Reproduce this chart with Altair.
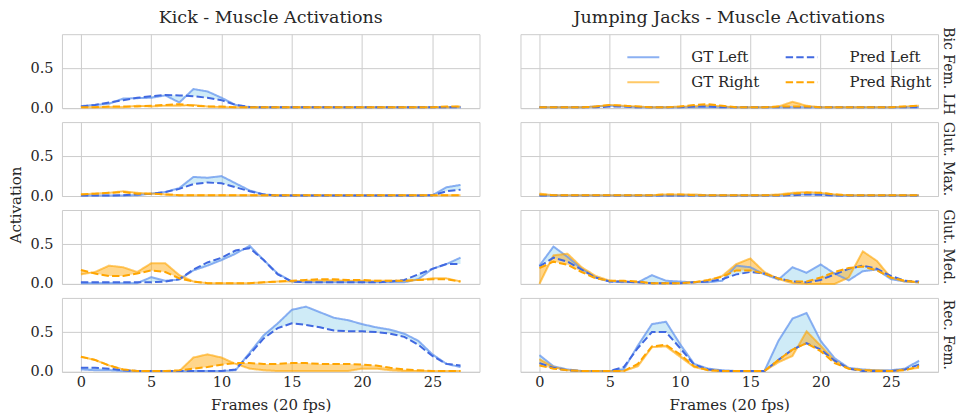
import altair as alt
import pandas as pd

frames = list(range(28))
exercises = ["Kick - Muscle Activations", "Jumping Jacks - Muscle Activations"]
muscles = ["Bic Fem. LH", "Glut. Max.", "Glut. Med.", "Rec. Fem."]
series_names = ["GT Left", "GT Right", "Pred Left", "Pred Right"]

# ---- Kick ----
kick_bic_gt_l = [0.025,0.04,0.055,0.12,0.125,0.13,0.16,0.07,0.24,0.21,0.13,0.04,0.01,0.01,0.01,0.01,0.01,0.01,0.01,0.01,0.01,0.01,0.01,0.01,0.01,0.01,0.01,0.01]
kick_bic_pr_l = [0.02,0.04,0.07,0.10,0.13,0.15,0.165,0.16,0.15,0.13,0.10,0.04,0.015,0.01,0.01,0.01,0.01,0.01,0.01,0.01,0.01,0.01,0.01,0.01,0.01,0.01,0.01,0.01]
kick_bic_gt_r = [0.01,0.01,0.01,0.01,0.03,0.02,0.03,0.03,0.04,0.02,0.01,0.01,0.01,0.01,0.01,0.01,0.01,0.01,0.01,0.01,0.01,0.01,0.01,0.01,0.01,0.01,0.01,0.02]
kick_bic_pr_r = [0.01,0.01,0.02,0.02,0.02,0.03,0.04,0.05,0.03,0.02,0.02,0.01,0.01,0.01,0.01,0.01,0.01,0.01,0.01,0.01,0.01,0.01,0.01,0.01,0.01,0.01,0.02,0.02]

kick_gmax_gt_l = [0.005,0.005,0.005,0.005,0.01,0.03,0.05,0.10,0.24,0.23,0.25,0.16,0.07,0.02,0.005,0.005,0.005,0.005,0.005,0.005,0.005,0.005,0.005,0.005,0.005,0.01,0.11,0.14]
kick_gmax_pr_l = [0.005,0.005,0.005,0.01,0.02,0.03,0.05,0.09,0.15,0.17,0.16,0.11,0.06,0.02,0.005,0.005,0.005,0.005,0.005,0.005,0.005,0.005,0.005,0.005,0.005,0.01,0.06,0.08]
kick_gmax_gt_r = [0.02,0.03,0.04,0.06,0.04,0.03,0.02,0.01,0.01,0.01,0.01,0.01,0.01,0.01,0.01,0.01,0.01,0.01,0.01,0.01,0.01,0.01,0.01,0.01,0.01,0.01,0.01,0.01]
kick_gmax_pr_r = [0.02,0.03,0.04,0.05,0.03,0.03,0.02,0.01,0.01,0.01,0.01,0.01,0.01,0.01,0.01,0.01,0.01,0.01,0.01,0.01,0.01,0.01,0.01,0.01,0.01,0.01,0.01,0.01]

kick_gmed_gt_l = [0.01,0.01,0.01,0.01,0.01,0.085,0.04,0.055,0.17,0.23,0.30,0.38,0.48,0.30,0.13,0.03,0.02,0.02,0.02,0.02,0.02,0.02,0.02,0.02,0.06,0.19,0.25,0.33]
kick_gmed_pr_l = [0.02,0.02,0.02,0.02,0.02,0.02,0.03,0.06,0.18,0.27,0.33,0.42,0.45,0.30,0.12,0.03,0.02,0.02,0.02,0.02,0.02,0.02,0.03,0.05,0.12,0.19,0.25,0.25]
kick_gmed_gt_r = [0.12,0.15,0.23,0.21,0.15,0.26,0.26,0.11,0.03,0.01,0.01,0.01,0.01,0.02,0.03,0.03,0.04,0.04,0.04,0.04,0.04,0.04,0.04,0.04,0.05,0.07,0.07,0.03]
kick_gmed_pr_r = [0.175,0.13,0.10,0.10,0.13,0.17,0.15,0.07,0.03,0.01,0.01,0.01,0.01,0.02,0.03,0.04,0.05,0.06,0.06,0.05,0.05,0.04,0.04,0.04,0.05,0.06,0.06,0.03]

kick_rf_gt_l = [0.03,0.02,0.02,0.01,0.01,0.01,0.01,0.01,0.01,0.01,0.01,0.02,0.24,0.46,0.61,0.78,0.82,0.75,0.68,0.65,0.60,0.56,0.53,0.48,0.39,0.22,0.10,0.06]
kick_rf_pr_l = [0.05,0.05,0.04,0.02,0.01,0.01,0.01,0.01,0.01,0.01,0.01,0.03,0.22,0.42,0.55,0.61,0.59,0.56,0.52,0.51,0.51,0.50,0.48,0.44,0.34,0.20,0.10,0.08]
kick_rf_gt_r = [0.19,0.15,0.08,0.03,0.01,0.01,0.01,0.01,0.18,0.22,0.18,0.10,0.04,0.02,0.01,0.01,0.01,0.01,0.01,0.01,0.04,0.04,0.02,0.01,0.01,0.01,0.01,0.01]
kick_rf_pr_r = [0.19,0.15,0.08,0.03,0.01,0.01,0.01,0.02,0.04,0.06,0.09,0.11,0.11,0.10,0.10,0.11,0.11,0.10,0.10,0.10,0.09,0.08,0.05,0.03,0.02,0.01,0.01,0.01]

# ---- Jumping Jacks ----
jj_bic_gt_l = [0.01,0.01,0.01,0.01,0.02,0.03,0.02,0.01,0.01,0.01,0.01,0.01,0.01,0.01,0.01,0.01,0.01,0.01,0.01,0.01,0.01,0.01,0.01,0.01,0.01,0.01,0.01,0.01]
jj_bic_pr_l = [0.01,0.01,0.01,0.01,0.01,0.02,0.02,0.01,0.01,0.01,0.01,0.02,0.02,0.01,0.01,0.01,0.01,0.01,0.01,0.01,0.01,0.01,0.01,0.01,0.01,0.01,0.01,0.01]
jj_bic_gt_r = [0.01,0.01,0.01,0.01,0.02,0.04,0.03,0.02,0.01,0.01,0.02,0.02,0.03,0.02,0.01,0.01,0.01,0.02,0.08,0.03,0.01,0.01,0.01,0.01,0.01,0.01,0.02,0.03]
jj_bic_pr_r = [0.01,0.01,0.01,0.01,0.02,0.04,0.03,0.02,0.01,0.01,0.02,0.04,0.05,0.03,0.01,0.01,0.01,0.02,0.02,0.02,0.01,0.01,0.01,0.01,0.01,0.01,0.02,0.03]

jj_gmax_gt_l = [0.005,0.005,0.005,0.005,0.005,0.005,0.005,0.005,0.005,0.005,0.005,0.005,0.005,0.005,0.005,0.005,0.005,0.005,0.02,0.02,0.02,0.01,0.005,0.005,0.005,0.005,0.005,0.005]
jj_gmax_pr_l = [0.005,0.005,0.005,0.005,0.005,0.005,0.005,0.005,0.005,0.005,0.005,0.005,0.005,0.005,0.005,0.005,0.005,0.005,0.01,0.02,0.015,0.005,0.005,0.005,0.005,0.005,0.005,0.005]
jj_gmax_gt_r = [0.03,0.01,0.01,0.01,0.01,0.01,0.01,0.01,0.01,0.02,0.02,0.02,0.01,0.01,0.01,0.01,0.01,0.02,0.04,0.05,0.04,0.02,0.01,0.01,0.01,0.01,0.01,0.01]
jj_gmax_pr_r = [0.02,0.01,0.01,0.01,0.01,0.01,0.01,0.01,0.01,0.02,0.02,0.01,0.01,0.01,0.01,0.01,0.01,0.01,0.03,0.04,0.04,0.02,0.01,0.01,0.01,0.01,0.01,0.01]

jj_gmed_gt_l = [0.23,0.47,0.34,0.19,0.08,0.03,0.02,0.02,0.11,0.04,0.03,0.02,0.02,0.04,0.23,0.21,0.12,0.055,0.21,0.14,0.245,0.13,0.045,0.16,0.18,0.06,0.03,0.02]
jj_gmed_pr_l = [0.22,0.33,0.28,0.18,0.08,0.03,0.03,0.02,0.01,0.01,0.01,0.02,0.03,0.06,0.12,0.15,0.13,0.07,0.03,0.02,0.05,0.12,0.19,0.23,0.19,0.10,0.04,0.03]
jj_gmed_gt_r = [0.0,0.36,0.38,0.21,0.10,0.04,0.03,0.02,0.01,0.01,0.01,0.02,0.04,0.10,0.25,0.32,0.15,0.06,0.01,0.0,0.0,0.0,0.08,0.41,0.29,0.08,0.03,0.02]
jj_gmed_pr_r = [0.20,0.28,0.24,0.15,0.07,0.04,0.04,0.03,0.01,0.01,0.01,0.02,0.05,0.09,0.17,0.17,0.13,0.07,0.03,0.03,0.08,0.15,0.20,0.22,0.17,0.08,0.04,0.02]

jj_rf_gt_l = [0.21,0.07,0.03,0.01,0.01,0.01,0.03,0.33,0.60,0.63,0.35,0.10,0.04,0.02,0.01,0.01,0.01,0.39,0.67,0.74,0.39,0.17,0.05,0.03,0.02,0.02,0.04,0.14]
jj_rf_pr_l = [0.11,0.05,0.02,0.01,0.01,0.01,0.06,0.30,0.50,0.50,0.30,0.09,0.03,0.01,0.01,0.01,0.01,0.15,0.28,0.36,0.28,0.14,0.04,0.01,0.01,0.01,0.03,0.09]
jj_rf_gt_r = [0.16,0.06,0.02,0.01,0.01,0.01,0.01,0.07,0.31,0.32,0.19,0.06,0.02,0.01,0.01,0.01,0.01,0.12,0.20,0.51,0.33,0.14,0.04,0.02,0.02,0.01,0.03,0.05]
jj_rf_pr_r = [0.08,0.04,0.02,0.01,0.01,0.01,0.01,0.10,0.32,0.34,0.22,0.07,0.02,0.01,0.01,0.01,0.01,0.15,0.28,0.36,0.26,0.11,0.04,0.02,0.01,0.01,0.02,0.07]

panels = {
    (exercises[0], muscles[0]): (kick_bic_gt_l, kick_bic_pr_l, kick_bic_gt_r, kick_bic_pr_r),
    (exercises[0], muscles[1]): (kick_gmax_gt_l, kick_gmax_pr_l, kick_gmax_gt_r, kick_gmax_pr_r),
    (exercises[0], muscles[2]): (kick_gmed_gt_l, kick_gmed_pr_l, kick_gmed_gt_r, kick_gmed_pr_r),
    (exercises[0], muscles[3]): (kick_rf_gt_l, kick_rf_pr_l, kick_rf_gt_r, kick_rf_pr_r),
    (exercises[1], muscles[0]): (jj_bic_gt_l, jj_bic_pr_l, jj_bic_gt_r, jj_bic_pr_r),
    (exercises[1], muscles[1]): (jj_gmax_gt_l, jj_gmax_pr_l, jj_gmax_gt_r, jj_gmax_pr_r),
    (exercises[1], muscles[2]): (jj_gmed_gt_l, jj_gmed_pr_l, jj_gmed_gt_r, jj_gmed_pr_r),
    (exercises[1], muscles[3]): (jj_rf_gt_l, jj_rf_pr_l, jj_rf_gt_r, jj_rf_pr_r),
}

rows = []
for (ex, mu), (gl, pl, gr, pr) in panels.items():
    for i, f in enumerate(frames):
        rows.append({"exercise": ex, "muscle": mu, "frame": f,
                     "GT Left": gl[i], "Pred Left": pl[i],
                     "GT Right": gr[i], "Pred Right": pr[i]})
df = pd.DataFrame(rows)

FONT = "DejaVu Serif"
TXT = "#262626"

xscale = alt.Scale(domain=[-1.35, 28.35], nice=False, zero=False)
yscale = alt.Scale(domain=[0, 0.93], nice=False, zero=False)
xaxis = alt.Axis(values=[0, 5, 10, 15, 20, 25], title="Frames (20 fps)", format="d")
yaxis = alt.Axis(values=[0, 0.5], format=".1f", title=None)

x = alt.X("frame:Q", scale=xscale, axis=xaxis)

area_l = alt.Chart().mark_area(color="#87CEEB", opacity=0.4).encode(
    x=x, y=alt.Y("GT Left:Q", scale=yscale, axis=yaxis), y2="Pred Left:Q")
area_r = alt.Chart().mark_area(color="#FFA500", opacity=0.45).encode(
    x=x, y=alt.Y("GT Right:Q", scale=yscale, axis=yaxis), y2="Pred Right:Q")

legend = alt.Legend(title=None, orient="none", legendX=565, legendY=6,
                    columns=2, symbolType="stroke", symbolSize=1024,
                    symbolStrokeWidth=2, labelFont=FONT, labelFontSize=15,
                    labelColor=TXT, labelOffset=31, columnPadding=21.5,
                    rowPadding=-9, symbolOffset=0)

lines = alt.Chart().transform_fold(
    series_names, as_=["series", "value"]
).mark_line(strokeWidth=2).encode(
    x=x,
    y=alt.Y("value:Q", scale=yscale, axis=yaxis),
    color=alt.Color("series:N", scale=alt.Scale(
        domain=series_names,
        range=["rgba(100,149,237,0.75)", "rgba(255,165,0,0.6)", "#4169E1", "#FFA500"]),
        legend=legend),
    strokeDash=alt.StrokeDash("series:N", scale=alt.Scale(
        domain=series_names, range=[[1, 0], [1, 0], [7.4, 3.2], [7.4, 3.2]]),
        legend=legend),
)

chart = alt.layer(area_l, area_r, lines, data=df).properties(width=418, height=74).facet(
    row=alt.Row("muscle:N", sort=muscles, header=alt.Header(
        title="Activation", titleOrient="left", titleAngle=-90, titleFont=FONT,
        titleFontSize=15, titleColor=TXT, titleFontWeight="normal", titlePadding=-20,
        labelOrient="right", labelAngle=90, labelFont=FONT, labelFontSize=14,
        labelColor=TXT, labelPadding=3)),
    column=alt.Column("exercise:N", sort=exercises, header=alt.Header(
        title=None, labelOrient="top", labelFont=FONT, labelFontSize=17.5,
        labelColor=TXT, labelPadding=8)),
    spacing={"row": 14, "column": 41},
    bounds="flush",
).configure_view(
    stroke="#cccccc", strokeWidth=1
).configure_axis(
    domain=False, ticks=False, tickSize=0, grid=True, gridColor="#cccccc",
    gridWidth=1, labelFont=FONT, labelFontSize=14.5, labelColor=TXT,
    titleFont=FONT, titleFontSize=15, titleColor=TXT, titleFontWeight="normal",
    labelPadding=9
).configure_axisX(labelPadding=4, titlePadding=8).properties(
    padding={"top": 0, "left": 0, "right": 4, "bottom": 0})

chart.save("out.html", embed_options={"renderer": "svg", "actions": False})
